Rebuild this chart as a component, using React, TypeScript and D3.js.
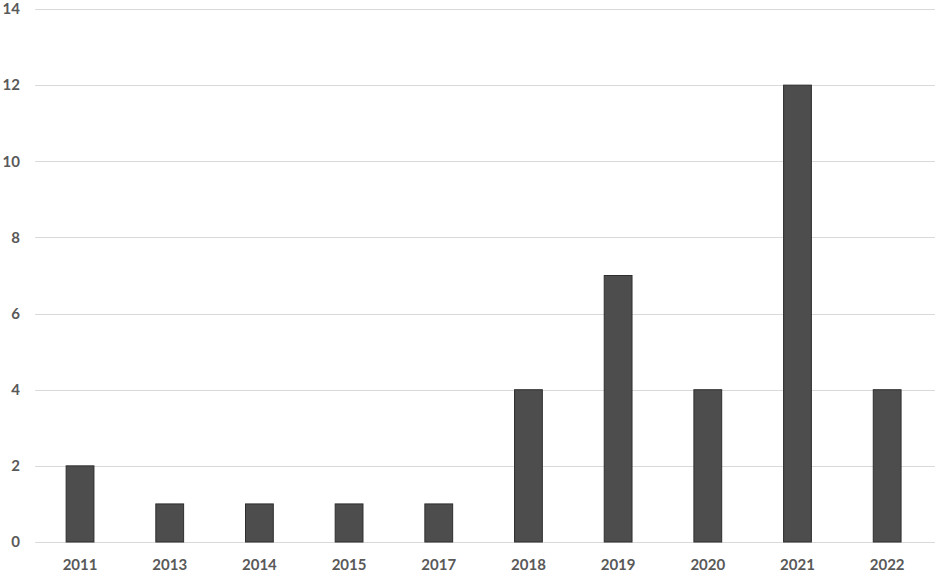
import React from "react";
import * as d3 from "d3";

const years = ["2011", "2013", "2014", "2015", "2017", "2018", "2019", "2020", "2021", "2022"];
const counts = [2, 1, 1, 1, 1, 4, 7, 4, 12, 4];
const yTicks = [0, 2, 4, 6, 8, 10, 12, 14];

export default function App() {
  const W = 935, H = 572;
  const left = 35.2, right = 932, top = 9, bottom = 542;
  const x = d3.scaleBand<string>().domain(years).range([left, right]).paddingInner(0.69).paddingOuter(0.345);
  const y = d3.scaleLinear().domain([0, 14]).range([bottom, top]);
  const font = "Lato, 'Open Sans', sans-serif";
  return (
    <svg width={W} height={H} style={{ position: "absolute", left: 0, top: 0, background: "#fff" }}>
      {yTicks.map((t) => (
        <g key={t}>
          <line x1={left} x2={W} y1={Math.round(y(t)) + 0.5} y2={Math.round(y(t)) + 0.5} stroke="#d9d9d9" strokeWidth={1} />
          <text x={20} y={y(t)} dy="0.35em" textAnchor="end" fontFamily={font} fontWeight="bold" fontSize={15} fill="#595959">{t}</text>
        </g>
      ))}
      {years.map((yr, i) => (
        <rect key={yr} x={x(yr)} y={y(counts[i])} width={x.bandwidth()} height={bottom - y(counts[i])} fill="#4d4d4d" stroke="#2e2e2e" strokeWidth={1} />
      ))}
      {years.map((yr) => (
        <text key={yr} x={(x(yr) as number) + x.bandwidth() / 2} y={565} dy="0.35em" textAnchor="middle" fontFamily={font} fontWeight="bold" fontSize={15} fill="#595959">{yr}</text>
      ))}
    </svg>
  );
}
